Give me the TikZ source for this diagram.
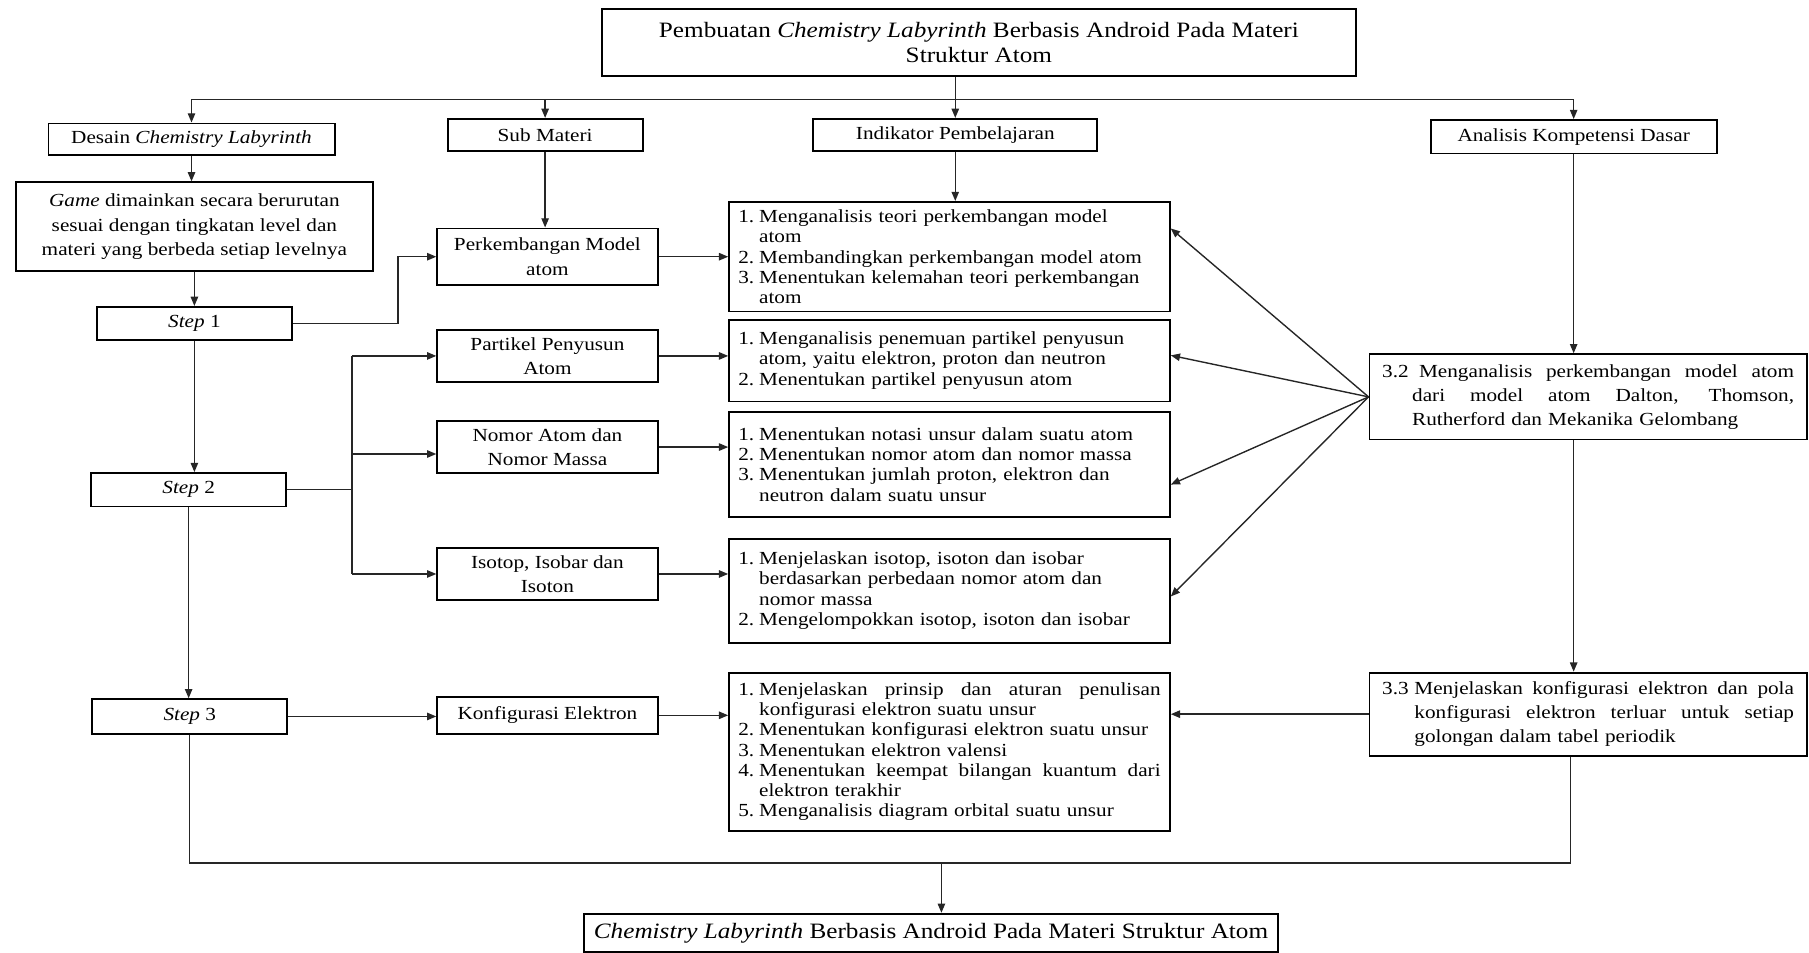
\documentclass[tikz,border=0pt]{standalone}
\usepackage{fontspec}
\setmainfont{Liberation Serif}[FakeStretch=1.15]
\usetikzlibrary{arrows.meta}
\newcommand\spreadbox[2]{\makebox[#1][s]{\spaceskip=0pt\xspaceskip=0pt\relax #2}}
\newcommand\lstI[2]{\makebox[9pt][l]{#1}#2}
\newcommand\lstC[1]{\hspace*{9pt}#1}
\newcommand\lstJ[2]{\makebox[9pt][l]{#1}\spreadbox{174pt}{#2}}
\begin{document}
\begin{tikzpicture}[x=0.5pt,y=-0.5pt,
  box/.style={draw=black, line width=0.8pt, inner sep=0pt, align=center, font=\fontsize{8}{10.5}\selectfont},
  lst/.style={draw=black, line width=0.8pt, inner xsep=4pt, inner ysep=0pt, text width=183pt, align=left, font=\fontsize{8}{8.8}\selectfont, minimum width=191pt},
  conn/.style={line width=0.6pt, draw=black!85},
  arr/.style={conn, -{Triangle[length=4pt,width=3.2pt]}}
]
\useasboundingbox (0,0) rectangle (1568,826);
% top row
\node[box, minimum width=326.5pt, minimum height=29pt, font=\fontsize{9.5}{11}\selectfont] (top) at (848.5,37)
  {Pembuatan \textit{Chemistry Labyrinth} Berbasis Android Pada Materi\\Struktur Atom};
\node[box, minimum width=124pt, minimum height=13.5pt] (des) at (166,120.5) {Desain \textit{Chemistry Labyrinth}};
\node[box, minimum width=84.5pt, minimum height=14pt] (sub) at (472.5,117) {Sub Materi};
\node[box, minimum width=123pt, minimum height=14pt] (ind) at (828,117) {Indikator Pembelajaran};
\node[box, minimum width=124pt, minimum height=14.5pt] (ana) at (1364,118.5) {Analisis Kompetensi Dasar};
% left column
\node[box, minimum width=154.5pt, minimum height=38.5pt] (game) at (168.5,196.5)
  {\textit{Game} dimainkan secara berurutan\\sesuai dengan tingkatan level dan\\materi yang berbeda setiap levelnya};
\node[box, minimum width=84.5pt, minimum height=14.5pt] (s1) at (168.5,280.5) {\textit{Step} 1};
\node[box, minimum width=84.5pt, minimum height=14.5pt] (s2) at (163.5,424.5) {\textit{Step} 2};
\node[box, minimum width=84.5pt, minimum height=15pt] (s3) at (164.5,621) {\textit{Step} 3};
% sub materi column
\node[box, minimum width=95.5pt, minimum height=24.5pt] (perk) at (474.5,222.5) {Perkembangan Model\\atom};
\node[box, minimum width=95.5pt, minimum height=22.5pt] (part) at (474.5,308.5) {Partikel Penyusun\\Atom};
\node[box, minimum width=95.5pt, minimum height=22.5pt] (nom) at (474.5,387.5) {Nomor Atom dan\\Nomor Massa};
\node[box, minimum width=95.5pt, minimum height=22.5pt] (iso) at (474.5,497.5) {Isotop, Isobar dan\\Isoton};
\node[box, minimum width=95.5pt, minimum height=16pt] (konf) at (474.5,620) {Konfigurasi Elektron};
% indikator lists
\node[lst, minimum height=47.5pt] (l1) at (823,222.5)
  {\lstI{1.}{Menganalisis teori perkembangan model}\\\lstC{atom}\\\lstI{2.}{Membandingkan perkembangan model atom}\\\lstI{3.}{Menentukan kelemahan teori perkembangan}\\\lstC{atom}};
\node[lst, minimum height=35.5pt] (l2) at (823,312.5)
  {\lstI{1.}{Menganalisis penemuan partikel penyusun}\\\lstC{atom, yaitu elektron, proton dan neutron}\\\lstI{2.}{Menentukan partikel penyusun atom}};
\node[lst, minimum height=45.5pt] (l3) at (823,402.5)
  {\lstI{1.}{Menentukan notasi unsur dalam suatu atom}\\\lstI{2.}{Menentukan nomor atom dan nomor massa}\\\lstI{3.}{Menentukan jumlah proton, elektron dan}\\\lstC{neutron dalam suatu unsur}};
\node[lst, minimum height=45pt] (l4) at (823,512)
  {\lstI{1.}{Menjelaskan isotop, isoton dan isobar}\\\lstC{berdasarkan perbedaan nomor atom dan}\\\lstC{nomor massa}\\\lstI{2.}{Mengelompokkan isotop, isoton dan isobar}};
\node[lst, minimum height=68.5pt] (l5) at (823,651.5)
  {\lstJ{1.}{Menjelaskan prinsip dan aturan penulisan}\\\lstC{konfigurasi elektron suatu unsur}\\\lstI{2.}{Menentukan konfigurasi elektron suatu unsur}\\\lstI{3.}{Menentukan elektron valensi}\\\lstJ{4.}{Menentukan keempat bilangan kuantum dari}\\\lstC{elektron terakhir}\\\lstI{5.}{Menganalisis diagram orbital suatu unsur}};
% kompetensi dasar
\node[box, minimum width=189.5pt, minimum height=37pt, text width=178.5pt, align=left] (b32) at (1376.5,344)
  {\makebox[16pt][l]{3.2}\spreadbox{162.5pt}{Menganalisis perkembangan model atom}\\\hspace*{13pt}\spreadbox{165.5pt}{dari model atom Dalton, Thomson,}\\\hspace*{13pt}Rutherford dan Mekanika Gelombang};
\node[box, minimum width=189.5pt, minimum height=36pt, text width=178.5pt, align=left] (b33) at (1376.5,619)
  {\makebox[14pt][l]{3.3}\spreadbox{164.5pt}{Menjelaskan konfigurasi elektron dan pola}\\\hspace*{14pt}\spreadbox{164.5pt}{konfigurasi elektron terluar untuk setiap}\\\hspace*{14pt}golongan dalam tabel periodik};
% final
\node[box, minimum width=301pt, minimum height=16.5pt, font=\fontsize{9.5}{11}\selectfont] (fin) at (807,808.5)
  {\textit{Chemistry Labyrinth} Berbasis Android Pada Materi Struktur Atom};
% coordinates
\coordinate (bus) at (0,86);
\coordinate (k1) at (345,0);
\coordinate (brk) at (305,0);
\coordinate (nomA) at ([yshift=-3pt]nom.west);
\coordinate (botR) at (1361,748);
\coordinate (botM) at (816,748);
% top distribution
\draw[conn] (top.south -| ind.north) -- (ind.north |- bus);
\draw[conn] (des.north |- bus) -- (ana.north |- bus);
\draw[arr] (des.north |- bus) -- (des.north);
\draw[arr] (sub.north |- bus) -- (sub.north);
\draw[arr] (ind.north |- bus) -- (ind.north);
\draw[arr] (ana.north |- bus) -- (ana.north);
% left chain
\draw[arr] (des.south) -- (des.south |- game.north);
\draw[arr] (game.south) -- (game.south |- s1.north);
\draw[arr] (s1.south) -- (s1.south |- s2.north);
\draw[arr] (s2.south) -- (s2.south |- s3.north);
% steps to sub materi
\draw[arr] (s1.east) -- (s1.east -| k1) |- (perk.west);
\draw[conn] (s2.east) -- (s2.east -| brk);
\draw[conn] (brk |- part.west) -- (brk |- iso.west);
\draw[arr] (brk |- part.west) -- (part.west);
\draw[arr] (brk |- nomA) -- (nomA);
\draw[arr] (brk |- iso.west) -- (iso.west);
\draw[arr] (s3.east) -- (s3.east -| konf.west);
% sub materi column arrows
\draw[arr] (sub.south) -- (sub.south |- perk.north);
\draw[arr] (ind.south) -- (ind.south |- l1.north);
\draw[arr] (perk.east) -- (perk.east -| l1.west);
\draw[arr] (part.east) -- (part.east -| l2.west);
\draw[arr] (nom.east) -- (nom.east -| l3.west);
\draw[arr] (iso.east) -- (iso.east -| l4.west);
\draw[arr] (konf.east) -- (konf.east -| l5.west);
% kompetensi dasar arrows
\draw[arr] (ana.south) -- (ana.south |- b32.north);
\draw[arr] (b32.south -| ana.south) -- (ana.south |- b33.north);
\draw[arr] (b32.west) -- ([yshift=12.25pt]l1.east);
\draw[arr] (b32.west) -- ([yshift=2.25pt]l2.east);
\draw[arr] (b32.west) -- ([yshift=-8.75pt]l3.east);
\draw[arr] (b32.west) -- ([yshift=-2.5pt]l4.east);
\draw[arr] (b33.west) -- (b33.west -| l5.east);
% bottom collector
\draw[conn] (s3.south) |- (botR) -- (botR |- b33.south);
\draw[arr] (botM) -- (botM |- fin.north);
\end{tikzpicture}
\end{document}
